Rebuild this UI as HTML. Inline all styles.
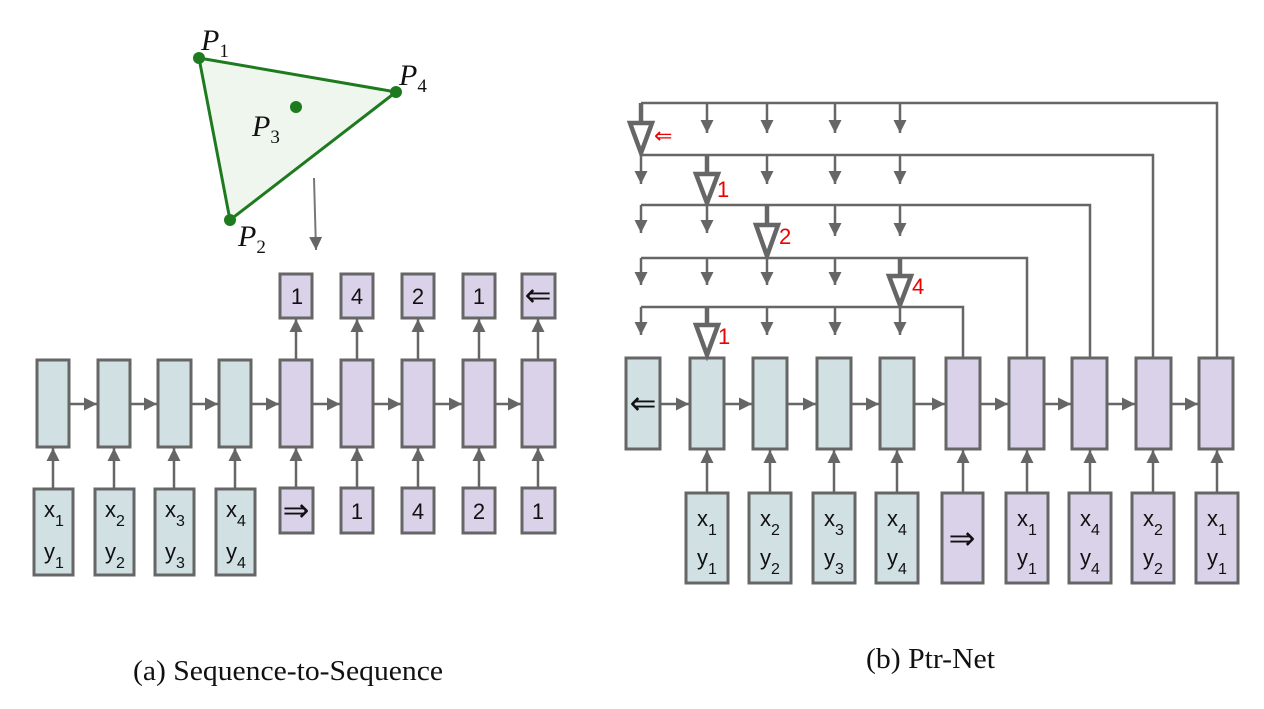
<!DOCTYPE html>
<html><head><meta charset="utf-8"><style>
html,body{margin:0;padding:0;background:#fff;}
svg{display:block;}
.s{font-family:"Liberation Sans",sans-serif;fill:#111;}
.b{stroke:#666;stroke-width:3;}
.e{fill:#d0e0e3;}
.d{fill:#d9d2e9;}
.l{stroke:#666;stroke-width:2.5;fill:none;}
.t{stroke:#666;stroke-width:4.5;fill:none;}
.h{stroke:#666;stroke-width:4.5;fill:#fff;stroke-linejoin:miter;}
.r{font-family:"Liberation Sans",sans-serif;fill:#e00;font-size:22px;}
</style></head><body>
<svg width="1264" height="709" viewBox="0 0 1264 709" xmlns="http://www.w3.org/2000/svg">
<defs>
<marker id="a" viewBox="0 0 10 10" refX="10" refY="5" markerWidth="14" markerHeight="13" markerUnits="userSpaceOnUse" orient="auto"><path d="M0,0 L10,5 L0,10z" fill="#666"/></marker>
</defs>

<!-- triangle -->
<polygon points="199,58 396,92 230,220" fill="#eef6ee" stroke="#1e7a1e" stroke-width="3"/>
<circle cx="199" cy="58" r="6" fill="#1e7a1e"/>
<circle cx="396" cy="92" r="6" fill="#1e7a1e"/>
<circle cx="230" cy="220" r="6" fill="#1e7a1e"/>
<circle cx="296" cy="107" r="6" fill="#1e7a1e"/>
<g font-family="Liberation Serif,serif" font-style="italic" font-size="30" fill="#111">
<text x="201" y="50">P<tspan font-style="normal" font-size="19" dy="7">1</tspan></text>
<text x="399" y="85">P<tspan font-style="normal" font-size="19" dy="7">4</tspan></text>
<text x="252" y="136">P<tspan font-style="normal" font-size="19" dy="7">3</tspan></text>
<text x="238" y="246">P<tspan font-style="normal" font-size="19" dy="7">2</tspan></text>
</g>
<line x1="314" y1="178" x2="316" y2="250" stroke="#777" stroke-width="2" marker-end="url(#a)"/>

<!-- (a) cells -->
<g class="b">
<rect class="e" x="37" y="360" width="32" height="87"/>
<rect class="e" x="98" y="360" width="32" height="87"/>
<rect class="e" x="158" y="360" width="33" height="87"/>
<rect class="e" x="219" y="360" width="32" height="87"/>
<rect class="d" x="280" y="360" width="32" height="87"/>
<rect class="d" x="341" y="360" width="32" height="87"/>
<rect class="d" x="402" y="360" width="32" height="87"/>
<rect class="d" x="463" y="360" width="32" height="87"/>
<rect class="d" x="522" y="360" width="33" height="87"/>
<rect class="d" x="280" y="274" width="32" height="44"/>
<rect class="d" x="341" y="274" width="32" height="44"/>
<rect class="d" x="402" y="274" width="32" height="44"/>
<rect class="d" x="463" y="274" width="32" height="44"/>
<rect class="d" x="522" y="274" width="33" height="44"/>
<rect class="e" x="34" y="489" width="39" height="86"/>
<rect class="e" x="95" y="489" width="39" height="86"/>
<rect class="e" x="155" y="489" width="39" height="86"/>
<rect class="e" x="216" y="489" width="39" height="86"/>
<rect class="d" x="280" y="488" width="33" height="45"/>
<rect class="d" x="341" y="488" width="32" height="45"/>
<rect class="d" x="402" y="488" width="32" height="45"/>
<rect class="d" x="463" y="488" width="32" height="45"/>
<rect class="d" x="522" y="488" width="33" height="45"/>
</g>
<g class="l" marker-end="url(#a)">
<line x1="70" y1="404" x2="97" y2="404"/>
<line x1="131" y1="404" x2="157" y2="404"/>
<line x1="192" y1="404" x2="218" y2="404"/>
<line x1="252" y1="404" x2="279" y2="404"/>
<line x1="313" y1="404" x2="340" y2="404"/>
<line x1="374" y1="404" x2="401" y2="404"/>
<line x1="435" y1="404" x2="462" y2="404"/>
<line x1="496" y1="404" x2="521" y2="404"/>
<line x1="53" y1="488" x2="53" y2="448"/>
<line x1="114" y1="488" x2="114" y2="448"/>
<line x1="174" y1="488" x2="174" y2="448"/>
<line x1="235" y1="488" x2="235" y2="448"/>
<line x1="296" y1="487" x2="296" y2="448"/>
<line x1="357" y1="487" x2="357" y2="448"/>
<line x1="418" y1="487" x2="418" y2="448"/>
<line x1="479" y1="487" x2="479" y2="448"/>
<line x1="538" y1="487" x2="538" y2="448"/>
<line x1="296" y1="359" x2="296" y2="319"/>
<line x1="357" y1="359" x2="357" y2="319"/>
<line x1="418" y1="359" x2="418" y2="319"/>
<line x1="479" y1="359" x2="479" y2="319"/>
<line x1="538" y1="359" x2="538" y2="319"/>
</g>
<g class="s" font-size="22" text-anchor="middle">
<text x="297" y="304">1</text><text x="357" y="304">4</text><text x="418" y="304">2</text><text x="479" y="304">1</text><text x="538" y="306" font-size="32">⇐</text>
<text x="296" y="521" font-size="32">⇒</text><text x="357" y="519">1</text><text x="418" y="519">4</text><text x="479" y="519">2</text><text x="538" y="519">1</text>
</g>
<g class="s" font-size="22">
<text x="44" y="517">x<tspan font-size="16" dy="9">1</tspan></text><text x="44" y="559">y<tspan font-size="16" dy="9">1</tspan></text>
<text x="105" y="517">x<tspan font-size="16" dy="9">2</tspan></text><text x="105" y="559">y<tspan font-size="16" dy="9">2</tspan></text>
<text x="165" y="517">x<tspan font-size="16" dy="9">3</tspan></text><text x="165" y="559">y<tspan font-size="16" dy="9">3</tspan></text>
<text x="226" y="517">x<tspan font-size="16" dy="9">4</tspan></text><text x="226" y="559">y<tspan font-size="16" dy="9">4</tspan></text>
</g>

<!-- (b) cells -->
<g class="b">
<rect class="e" x="626" y="358" width="34" height="91"/>
<rect class="e" x="690" y="358" width="34" height="91"/>
<rect class="e" x="753" y="358" width="34" height="91"/>
<rect class="e" x="817" y="358" width="34" height="91"/>
<rect class="e" x="880" y="358" width="34" height="91"/>
<rect class="d" x="946" y="358" width="34" height="91"/>
<rect class="d" x="1009" y="358" width="35" height="91"/>
<rect class="d" x="1072" y="358" width="35" height="91"/>
<rect class="d" x="1136" y="358" width="35" height="91"/>
<rect class="d" x="1199" y="358" width="34" height="91"/>
<rect class="e" x="686" y="493" width="42" height="90"/>
<rect class="e" x="749" y="493" width="42" height="90"/>
<rect class="e" x="813" y="493" width="42" height="90"/>
<rect class="e" x="876" y="493" width="42" height="90"/>
<rect class="d" x="942" y="493" width="41" height="90"/>
<rect class="d" x="1006" y="493" width="42" height="90"/>
<rect class="d" x="1069" y="493" width="42" height="90"/>
<rect class="d" x="1132" y="493" width="42" height="90"/>
<rect class="d" x="1196" y="493" width="42" height="90"/>
</g>
<g class="l" marker-end="url(#a)">
<line x1="661" y1="404" x2="689" y2="404"/>
<line x1="725" y1="404" x2="752" y2="404"/>
<line x1="788" y1="404" x2="816" y2="404"/>
<line x1="852" y1="404" x2="879" y2="404"/>
<line x1="915" y1="404" x2="945" y2="404"/>
<line x1="981" y1="404" x2="1008" y2="404"/>
<line x1="1045" y1="404" x2="1071" y2="404"/>
<line x1="1108" y1="404" x2="1135" y2="404"/>
<line x1="1172" y1="404" x2="1198" y2="404"/>
<line x1="707" y1="492" x2="707" y2="450"/>
<line x1="770" y1="492" x2="770" y2="450"/>
<line x1="834" y1="492" x2="834" y2="450"/>
<line x1="897" y1="492" x2="897" y2="450"/>
<line x1="963" y1="492" x2="963" y2="450"/>
<line x1="1027" y1="492" x2="1027" y2="450"/>
<line x1="1090" y1="492" x2="1090" y2="450"/>
<line x1="1153" y1="492" x2="1153" y2="450"/>
<line x1="1217" y1="492" x2="1217" y2="450"/>
</g>
<g class="s" font-size="32" text-anchor="middle">
<text x="643" y="414">⇐</text><text x="962" y="549">⇒</text>
</g>
<g class="s" font-size="22">
<text x="697" y="526">x<tspan font-size="16" dy="9">1</tspan></text><text x="697" y="565">y<tspan font-size="16" dy="9">1</tspan></text>
<text x="760" y="526">x<tspan font-size="16" dy="9">2</tspan></text><text x="760" y="565">y<tspan font-size="16" dy="9">2</tspan></text>
<text x="824" y="526">x<tspan font-size="16" dy="9">3</tspan></text><text x="824" y="565">y<tspan font-size="16" dy="9">3</tspan></text>
<text x="887" y="526">x<tspan font-size="16" dy="9">4</tspan></text><text x="887" y="565">y<tspan font-size="16" dy="9">4</tspan></text>
<text x="1017" y="526">x<tspan font-size="16" dy="9">1</tspan></text><text x="1017" y="565">y<tspan font-size="16" dy="9">1</tspan></text>
<text x="1080" y="526">x<tspan font-size="16" dy="9">4</tspan></text><text x="1080" y="565">y<tspan font-size="16" dy="9">4</tspan></text>
<text x="1143" y="526">x<tspan font-size="16" dy="9">2</tspan></text><text x="1143" y="565">y<tspan font-size="16" dy="9">2</tspan></text>
<text x="1207" y="526">x<tspan font-size="16" dy="9">1</tspan></text><text x="1207" y="565">y<tspan font-size="16" dy="9">1</tspan></text>
</g>

<!-- pointer lines -->
<g class="l">
<polyline points="641,103 1217,103 1217,357"/>
<polyline points="641,155 1153,155 1153,357"/>
<polyline points="641,205 1090,205 1090,357"/>
<polyline points="641,258 1027,258 1027,357"/>
<polyline points="641,307 963,307 963,357"/>
</g>
<g class="l" marker-end="url(#a)">
<line x1="707" y1="103" x2="707" y2="133"/><line x1="767" y1="103" x2="767" y2="133"/><line x1="835" y1="103" x2="835" y2="133"/><line x1="900" y1="103" x2="900" y2="133"/>
<line x1="641" y1="155" x2="641" y2="184"/><line x1="767" y1="155" x2="767" y2="184"/><line x1="835" y1="155" x2="835" y2="184"/><line x1="900" y1="155" x2="900" y2="184"/>
<line x1="641" y1="205" x2="641" y2="233"/><line x1="707" y1="205" x2="707" y2="233"/><line x1="835" y1="205" x2="835" y2="236"/><line x1="900" y1="205" x2="900" y2="236"/>
<line x1="641" y1="258" x2="641" y2="285"/><line x1="707" y1="258" x2="707" y2="285"/><line x1="767" y1="258" x2="767" y2="285"/><line x1="835" y1="258" x2="835" y2="285"/>
<line x1="641" y1="307" x2="641" y2="335"/><line x1="767" y1="307" x2="767" y2="335"/><line x1="835" y1="307" x2="835" y2="335"/><line x1="900" y1="307" x2="900" y2="335"/>
</g>
<g>
<line class="t" x1="641" y1="103" x2="641" y2="123"/><polygon class="h" points="630,123 652,123 641,153"/>
<line class="t" x1="707" y1="155" x2="707" y2="174"/><polygon class="h" points="696,174 718,174 707,203"/>
<line class="t" x1="767" y1="205" x2="767" y2="225"/><polygon class="h" points="756,225 778,225 767,256"/>
<line class="t" x1="900" y1="258" x2="900" y2="276"/><polygon class="h" points="889,276 911,276 900,305"/>
<line class="t" x1="707" y1="307" x2="707" y2="325"/><polygon class="h" points="696,325 718,325 707,355"/>
</g>
<text class="r" x="654" y="143" font-size="26">⇐</text>
<text class="r" x="717" y="197">1</text>
<text class="r" x="779" y="244">2</text>
<text class="r" x="912" y="294">4</text>
<text class="r" x="718" y="344">1</text>

<!-- captions -->
<g font-family="Liberation Serif,serif" font-size="28" fill="#111">
<text x="133" y="680" textLength="310" lengthAdjust="spacingAndGlyphs">(a) Sequence-to-Sequence</text>
<text x="866" y="668" textLength="129" lengthAdjust="spacingAndGlyphs">(b) Ptr-Net</text>
</g>
</svg>
</body></html>
